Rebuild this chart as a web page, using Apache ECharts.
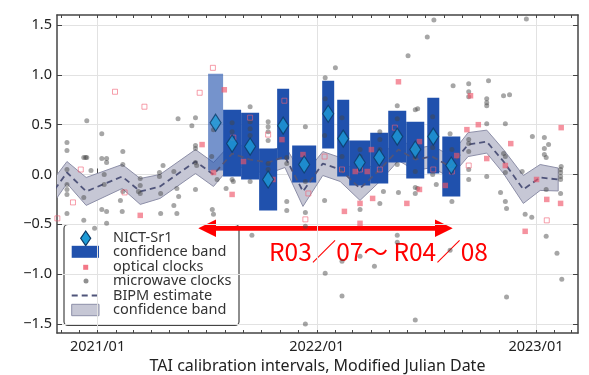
<!DOCTYPE html>
<html><head><meta charset="utf-8">
<script src="https://cdn.jsdelivr.net/npm/echarts@6/dist/echarts.min.js"></script>
<style>html,body{margin:0;padding:0;background:#fff}#c{width:589px;height:375px}</style>
</head><body><div id="c"></div>
<script>
// ---------------- data ----------------
const xTickMjd = [59215, 59580, 59945];
const xTickLabels = ['2021/01', '2022/01', '2023/01'];
const monthTicks = [59154,59184,59215,59246,59274,59305,59335,59366,59396,59427,59458,59488,59519,59549,
  59580,59611,59639,59670,59700,59731,59761,59792,59823,59853,59884,59914,59945,59976,60004];
const yTicks = [-1.5, -1.0, -0.5, 0.0, 0.5, 1.0, 1.5];

// NICT-Sr1 (interval start/end MJD, confidence band low/high, estimate)
const sr1Start = [59399,59424,59454,59484,59514,59539,59589,59614,59634,59669,59699,59729,59764,59789];
const sr1End   = [59424,59454,59484,59514,59534,59579,59609,59634,59669,59699,59729,59759,59784,59819];
const sr1Low   = [0.04,-0.02,-0.05,-0.36,0.15,-0.08,0.26,-0.02,-0.11,-0.09,0.12,-0.04,0.01,-0.22];
const sr1High  = [1.01,0.65,0.62,0.26,0.86,0.29,0.94,0.75,0.34,0.42,0.64,0.53,0.77,0.38];
const sr1Value = [0.52,0.31,0.28,-0.05,0.49,0.10,0.61,0.36,0.12,0.17,0.38,0.25,0.38,0.09];
const sr1Provisional = [true,false,false,false,false,false,false,false,false,false,false,false,false,false];

// BIPM estimate and its confidence band
const bipmMjd = [59134,59164,59196,59256,59286,59319,59378,59408,59439,59469,59499,59527,59557,59590,
  59619,59652,59685,59716,59744,59772,59802,59832,59863,59891,59924,59952,59982];
const bipmValue = [-0.23,0.02,-0.17,-0.02,-0.17,-0.12,0.13,0.0,0.21,0.15,0.12,0.18,-0.17,0.11,
  0.05,-0.14,0.05,0.25,0.15,0.18,0.08,0.30,0.33,0.13,-0.15,-0.03,-0.05];
const bipmHalfWidth = [0.12,0.11,0.14,0.12,0.13,0.12,0.12,0.12,0.11,0.11,0.11,0.11,0.15,0.12,
  0.12,0.12,0.12,0.11,0.11,0.11,0.11,0.12,0.115,0.12,0.14,0.13,0.115];

const microwaveClocks = [
[59164,0.32],[59164,0.24],[59164,0.05],[59164,-0.10],[59164,-0.15],[59164,-0.20],[59164,-0.39],
[59197,0.54],[59192,0.17],[59195,0.17],[59197,0.17],[59204,0.04],[59192,-0.23],[59192,-0.46],
[59222,0.41],[59222,0.16],[59230,0.16],[59230,0.12],[59226,0.0],[59226,-0.10],[59222,-0.35],[59230,-0.37],[59230,-0.49],[59210,-0.54],
[59257,0.23],[59257,0.10],[59257,-0.17],[59253,-0.26],[59256,-0.37],
[59286,-0.04],[59286,-0.11],[59283,-0.17],[59286,-0.19],
[59318,0.02],[59318,-0.02],[59324,0.09],[59320,-0.19],[59320,-0.39],
[59349,0.56],[59342,0.03],[59347,-0.14],[59350,-0.22],[59342,-0.31],[59347,-0.39],
[59372,0.49],[59378,0.57],[59378,0.29],[59378,0.26],[59378,0.12],[59380,0.09],[59378,-0.15],
[59408,0.45],[59405,0.18],[59406,-0.35],[59408,-0.40],[59414,-0.05],
[59439,0.52],[59439,0.43],[59439,-0.05],[59441,-0.07],[59429,-0.14],
[59469,0.68],[59469,0.53],[59469,0.46],[59469,0.39],[59469,-0.07],[59472,-0.61],
[59499,0.53],[59499,0.48],[59499,0.43],[59499,0.34],[59499,0.11],[59499,0.05],
[59530,0.11],[59530,0.17],[59530,-0.27],[59530,-0.36],
[59561,0.48],[59561,-0.07],[59561,-0.38],[59561,-0.52],[59561,-1.50],
[59594,0.97],[59594,0.76],[59593,0.39],[59593,-0.26],[59594,-0.99],
[59611,1.07],[59622,0.57],[59622,0.18],[59622,-0.87],[59622,-1.22],
[59652,0.25],[59652,0.18],[59652,-0.35],[59652,-0.82],[59676,-0.92],
[59685,0.43],[59685,0.35],[59685,0.25],[59691,-0.17],[59685,-0.29],
[59714,0.69],[59714,0.56],[59714,0.10],[59716,-0.18],[59714,-0.61],[59714,-0.68],
[59732,1.19],
[59744,0.65],[59748,0.66],[59744,0.26],[59744,0.18],[59744,0.03],[59744,-0.13],[59748,-0.14],[59744,-0.19],[59744,-1.46],
[59764,1.38],[59775,1.55],[59773,0.58],[59773,0.27],[59773,0.0],[59779,-0.10],
[59807,0.89],[59805,0.25],[59802,0.41],[59805,-0.27],[59802,-0.76],
[59833,0.91],[59833,0.83],[59833,0.78],[59833,0.35],[59833,0.31],[59833,0.23],[59833,0.05],[59833,-0.05],
[59866,0.94],[59863,0.76],[59863,0.72],[59863,0.69],[59863,0.51],[59863,-0.02],
[59891,0.79],[59901,0.80],[59894,0.51],[59891,0.21],[59894,0.18],[59894,0.02],[59886,-0.18],[59894,-0.27],[59896,-0.34],[59896,-1.23],
[59929,1.56],[59939,0.38],[59922,0.03],[59927,-0.40],[59938,-0.43],
[59959,0.37],[59966,0.30],[59959,0.26],[59959,0.20],[59962,0.17],[59962,-0.15],[59962,-0.62],
[59987,0.08],[59986,0.05],[59986,0.02],[59986,-0.02],[59986,-0.05],[59986,-0.19],[59980,-0.79],[59988,-1.05]
];
const opticalClocks = [
[59389,0.30],[59286,-0.41],[59408,0.02],[59426,0.85],[59439,-0.20],[59458,0.13],[59522,0.35],[59507,-0.05],
[59557,0.20],[59626,-0.37],[59644,0.03],[59664,0.03],[59652,-0.29],[59652,-0.49],[59673,-0.24],[59671,0.25],
[59716,0.93],[59730,-0.29],[59751,0.33],[59751,-0.15],[59794,-0.11],[59813,0.19],[59830,0.45],[59836,0.79],
[59849,0.50],[59863,0.16],[59903,0.31],[59894,0.09],[59927,-0.57],[59946,-0.05],[59963,-0.25],[59987,0.47],[59986,-0.29]
];
const opticalClocksOpen = [
[59148,-0.44],[59174,-0.28],[59187,0.05],[59244,0.83],[59260,-0.18],[59293,0.68],[59385,0.82],[59407,1.07],
[59441,0.37],[59469,0.57],[59499,0.40],[59526,0.74],[59561,-0.45],[59566,-0.19],[59593,0.18],[59622,0.05],
[59652,0.05],[59685,0.05],[59710,0.47],[59774,0.05],[59805,0.03],[59833,0.09],[59963,-0.46]
];

// ---------------- chart ----------------
const X_MIN = 59147.4, X_MAX = 60015, Y_MIN = -1.59, Y_MAX = 1.60;
const FONT = 'Noto Sans';
const axisColor = '#444';
const chart = echarts.init(document.getElementById('c'), null, {renderer: 'canvas'});

function xAxisDef(pos, ticks, len, extra) {
  return Object.assign({
    type: 'value', position: pos, min: X_MIN, max: X_MAX,
    axisLine: {show: true, onZero: false, lineStyle: {color: axisColor, width: 1.5}},
    axisTick: {show: true, inside: true, length: len, customValues: ticks, lineStyle: {color: axisColor, width: 1}},
    axisLabel: {show: false},
    splitLine: {show: false}
  }, extra || {});
}

const sr1Data = sr1Start.map((s, i) => [s, sr1End[i], sr1Low[i], sr1High[i], sr1Provisional[i] ? 1 : 0]);
const sr1Points = sr1Start.map((s, i) => [(s + sr1End[i]) / 2, sr1Value[i]]);
const bipmLine = bipmMjd.map((m, i) => [m, bipmValue[i]]);

const option = {
  animation: false,
  backgroundColor: '#fff',
  grid: {left: 57, top: 15, width: 521, height: 318, containLabel: false, outerBoundsMode: 'none'},
  xAxis: [
    xAxisDef('bottom', monthTicks, 3, {
      axisLabel: {show: true, customValues: xTickMjd, margin: 6, fontSize: 14.5, fontFamily: FONT, color: '#222',
        formatter: v => xTickLabels[xTickMjd.indexOf(Math.round(v))] || ''},
      name: 'TAI calibration intervals, Modified Julian Date', nameLocation: 'middle', nameGap: 20,
      nameTextStyle: {fontSize: 16, fontFamily: FONT, color: '#222'}
    }),
    xAxisDef('top', monthTicks, 3),
    xAxisDef('bottom', xTickMjd, 6, {axisLine: {show: false}, splitLine: {show: true, lineStyle: {color: '#e2e2e2', width: 1}}}),
    xAxisDef('top', xTickMjd, 6, {axisLine: {show: false}})
  ],
  yAxis: [
    {type: 'value', position: 'left', min: Y_MIN, max: Y_MAX,
      axisLine: {show: true, onZero: false, lineStyle: {color: axisColor, width: 1.5}},
      axisTick: {show: true, inside: true, length: 5, customValues: yTicks, lineStyle: {color: axisColor}},
      axisLabel: {customValues: yTicks, margin: 5, fontSize: 14.5, fontFamily: FONT, color: '#222',
        formatter: v => v.toFixed(1).replace('-', '\u2212')},
      splitLine: {show: true, lineStyle: {color: '#e2e2e2', width: 1}}},
    {type: 'value', position: 'right', min: Y_MIN, max: Y_MAX,
      axisLine: {show: true, onZero: false, lineStyle: {color: axisColor, width: 1.5}},
      axisTick: {show: true, inside: true, length: 5, customValues: yTicks, lineStyle: {color: axisColor}},
      axisLabel: {show: false}, splitLine: {show: false}}
  ],
  series: [
    { // BIPM confidence band
      type: 'custom', name: 'BIPM band', z: 1, clip: true,
      data: [bipmLine[1]],
      renderItem: function (params, api) {
        const pts = [];
        for (let i = 0; i < bipmMjd.length; i++) pts.push(api.coord([bipmMjd[i], bipmValue[i] + bipmHalfWidth[i]]));
        for (let i = bipmMjd.length - 1; i >= 0; i--) pts.push(api.coord([bipmMjd[i], bipmValue[i] - bipmHalfWidth[i]]));
        return {type: 'polygon', shape: {points: pts}, style: {fill: '#c6c7d5', stroke: '#8d8fa8', lineWidth: 1}};
      }
    },
    { // NICT-Sr1 confidence band
      type: 'custom', name: 'NICT band', z: 2, clip: true,
      data: sr1Data, encode: {x: [0, 1], y: [2, 3]},
      renderItem: function (params, api) {
        const p0 = api.coord([api.value(0), api.value(3)]);
        const p1 = api.coord([api.value(1), api.value(2)]);
        return {type: 'rect', shape: {x: p0[0], y: p0[1], width: p1[0] - p0[0], height: p1[1] - p0[1]},
          style: {fill: '#2051ad', opacity: api.value(4) ? 0.62 : 1}};
      }
    },
    { // BIPM estimate
      type: 'line', name: 'BIPM estimate', z: 3, data: bipmLine, symbol: 'none', clip: true,
      lineStyle: {color: '#4f547a', width: 1.8, type: [6, 4]}
    },
    {
      type: 'scatter', name: 'microwave clocks', z: 4, data: microwaveClocks, symbol: 'circle', symbolSize: 5,
      itemStyle: {color: 'rgba(70,70,70,0.6)'}
    },
    {
      type: 'scatter', name: 'optical clocks (open)', z: 4, data: opticalClocksOpen, symbol: 'rect', symbolSize: 5,
      itemStyle: {color: 'rgba(255,255,255,0)', borderColor: 'rgba(240,95,115,0.75)', borderWidth: 1}
    },
    {
      type: 'scatter', name: 'optical clocks', z: 4, data: opticalClocks, symbol: 'rect', symbolSize: 5.5,
      itemStyle: {color: 'rgba(240,85,105,0.8)'}
    },
    {
      type: 'scatter', name: 'NICT-Sr1', z: 5, data: sr1Points, symbol: 'diamond', symbolSize: [11, 17],
      itemStyle: {color: '#1d9ad6', borderColor: '#0d3a66', borderWidth: 1.2}
    }
  ],
  graphic: [
    // legend
    {type: 'group', z: 100, children: [
      {type: 'rect', shape: {x: 64, y: 224.5, width: 175, height: 101, r: 4},
        style: {fill: '#fff', stroke: '#444', lineWidth: 1.2}},
      {type: 'polygon', shape: {points: [[85.7, 231], [90.7, 238.3], [85.7, 245.6], [80.7, 238.3]]},
        style: {fill: '#1d9ad6', stroke: '#0d3a66', lineWidth: 1.2}},
      {type: 'rect', shape: {x: 71.7, y: 245.8, width: 27.3, height: 12}, style: {fill: '#2051ad'}},
      {type: 'rect', shape: {x: 83.2, y: 264.8, width: 5, height: 5}, style: {fill: 'rgba(240,85,105,0.8)'}},
      {type: 'circle', shape: {cx: 86, cy: 281, r: 2.5}, style: {fill: 'rgba(70,70,70,0.6)'}},
      {type: 'line', shape: {x1: 71.7, y1: 295.5, x2: 99, y2: 295.5},
        style: {stroke: '#4f547a', lineWidth: 1.8, lineDash: [6, 4]}},
      {type: 'rect', shape: {x: 71.7, y: 304.3, width: 27.3, height: 11.4},
        style: {fill: '#c6c7d5', stroke: '#8d8fa8', lineWidth: 1}},
      {type: 'text', x: 113, y: 238.3, style: {text: 'NICT-Sr1', font: '14.5px "Noto Sans"', fill: '#333', verticalAlign: 'middle'}},
      {type: 'text', x: 113, y: 252, style: {text: 'confidence band', font: '14.5px "Noto Sans"', fill: '#333', verticalAlign: 'middle'}},
      {type: 'text', x: 113, y: 266.5, style: {text: 'optical clocks', font: '14.5px "Noto Sans"', fill: '#333', verticalAlign: 'middle'}},
      {type: 'text', x: 113, y: 281, style: {text: 'microwave clocks', font: '14.5px "Noto Sans"', fill: '#333', verticalAlign: 'middle'}},
      {type: 'text', x: 113, y: 295.5, style: {text: 'BIPM estimate', font: '14.5px "Noto Sans"', fill: '#333', verticalAlign: 'middle'}},
      {type: 'text', x: 113, y: 310, style: {text: 'confidence band', font: '14.5px "Noto Sans"', fill: '#333', verticalAlign: 'middle'}}
    ]},
    // red arrow annotation
    {type: 'group', z: 100, children: [
      {type: 'line', shape: {x1: 212, y1: 228.3, x2: 439, y2: 228.3}, style: {stroke: '#ff0000', lineWidth: 4.7}},
      {type: 'polygon', shape: {points: [[198.3, 228.3], [216, 219.5], [216, 237.1]]}, style: {fill: '#ff0000'}},
      {type: 'polygon', shape: {points: [[452.7, 228.3], [435, 219.5], [435, 237.1]]}, style: {fill: '#ff0000'}},
      {type: 'text', x: 269, y: 252, style: {text: 'R03\uFF0F07\u301C R04\uFF0F08', font: '24.5px "Noto Sans CJK JP"',
        fill: '#ff0000', verticalAlign: 'middle'}}
    ]}
  ]
};
chart.setOption(option);
</script></body></html>
